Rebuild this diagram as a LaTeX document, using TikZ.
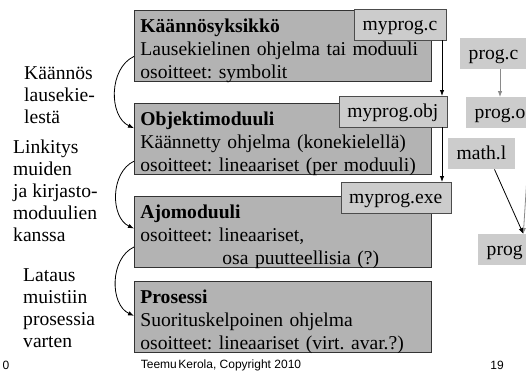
\documentclass[tikz,border=0pt]{standalone}
\usepackage{fontspec}
\setmainfont{Liberation Serif}
\newfontfamily\footfont{Liberation Sans}
\frenchspacing
\usetikzlibrary{positioning, calc, arrows.meta}
\definecolor{boxFill}{HTML}{b3b3b3}
\definecolor{fileFill}{HTML}{cccccc}
\definecolor{lineGray}{HTML}{8a8a8a}
\tikzset{
    ModBox/.style = {
        draw=black!80, fill=boxFill, line width=0.8pt,
        text width=285pt, align=left,
        inner xsep=6pt, inner ysep=0pt,
        text height=22pt, text depth=49pt,
        font=\fontsize{19.6}{23}\selectfont
    },
    FileBox/.style = {
        fill=fileFill, inner xsep=8.5pt, inner ysep=0pt,
        text height=21pt, text depth=10pt,
        font=\fontsize{19.6}{23}\selectfont
    },
    SideText/.style = {
        align=left, inner sep=0pt, anchor=west,
        font=\fontsize{19.6}{22}\selectfont
    },
    Arrow/.style = {
        line width=0.8pt, color=#1,
        -{Latex[length=6pt, width=4.5pt]}
    },
    Arrow/.default={black}
}

\begin{document}
\begin{tikzpicture}[x=1pt, y=-1pt]
    \useasboundingbox (0,0) rectangle (526,373);
    % phases
    \node[ModBox, anchor=north west] (kys) at (134,10)
        {\textbf{Käännösyksikkö}\\Lausekielinen ohjelma tai moduuli\\osoitteet: symbolit};
    \node[ModBox, below=21pt of kys] (obj)
        {\textbf{Objektimoduuli}\\Käännetty ohjelma (konekielellä)\\osoitteet: lineaariset (per moduuli)};
    \node[ModBox, below=21pt of obj] (ajo)
        {\textbf{Ajomoduuli}\\osoitteet: lineaariset,\\\hspace*{82pt}osa puutteellisia (?)};
    \node[ModBox, below=14pt of ajo] (pros)
        {\textbf{Prosessi}\\Suorituskelpoinen ohjelma\\osoitteet: lineaariset (virt. avar.?)};
    % files
    \node[FileBox, draw=black!70, anchor=north east] (myc) at (446,9) {myprog.c};
    \node[FileBox, draw=black!70, anchor=north east] (myobj) at (447,96) {myprog.obj};
    \node[FileBox, draw=black!70, anchor=north east] (myexe) at (451,182) {myprog.exe};
    \node[FileBox, anchor=north west] (progc) at (460,38) {prog.c};
    \node[FileBox, anchor=north west] (progo) at (466,97) {prog.o};
    \node[FileBox, anchor=north west] (mathl) at (448,138) {math.l};
    \node[FileBox, anchor=north west] (prog) at (478,234) {prog};
    % side texts
    \node[SideText] (kaannos) at (24,95) {Käännös\\lausekie-\\lestä};
    \node[SideText] (linkitys) at (13,191) {Linkitys\\muiden\\ja kirjasto-\\moduulien\\kanssa};
    \node[SideText] (lataus) at (23,308) {Lataus\\muistiin\\prosessia\\varten};
    % footer
    \node[font=\footfont\fontsize{12}{14}\selectfont] (sivu0) at (6,365) {0};
    \node[font=\footfont\fontsize{12}{14}\selectfont] (tekija) at (221,365) {Teemu\hspace{1.5pt}Kerola, Copyright 2010};
    \node[font=\footfont\fontsize{12}{14}\selectfont] (sivu) at (497,365) {19};
    % phase arrows
    \draw [Arrow] ([yshift=-10.5pt]kys.west) to[out=205, in=155, looseness=1] ([yshift=10.5pt]obj.west);
    \draw [Arrow] ([yshift=-22.5pt]obj.west) to[out=205, in=155, looseness=1] ([yshift=3pt]ajo.west);
    \draw [Arrow] ([yshift=-15.5pt]ajo.west) to[out=205, in=155, looseness=1] ([yshift=1.5pt]pros.west);
    % file arrows
    \draw [Arrow] ([xshift=-4pt]myc.south east) -- ([xshift=-5pt]myobj.north east);
    \draw [Arrow] ([xshift=-5pt]myobj.south east) -- ([xshift=-9pt]myexe.north east);
    \draw [Arrow=lineGray] (progc.south -| progo.north) -- (progo.north);
    \draw [Arrow=lineGray] ([xshift=-4pt]progo.south east) -- ([xshift=-8pt]prog.north east);
    \draw [Arrow] ([xshift=13pt]mathl.south) -- ([xshift=-8pt]prog.north east);
\end{tikzpicture}
\end{document}
